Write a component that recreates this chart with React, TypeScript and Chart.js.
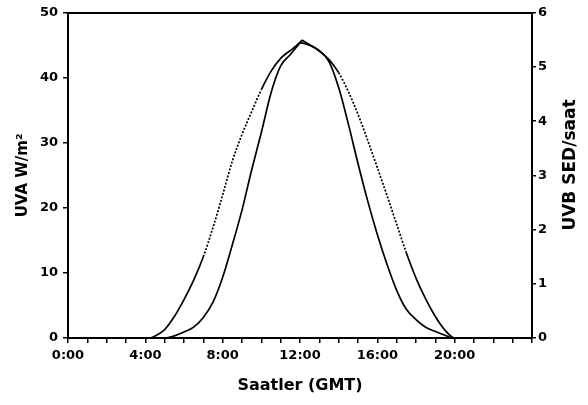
import React, { useEffect, useRef } from "react";
import { Chart, registerables } from "chart.js";

Chart.register(...registerables);

// Hours (GMT) and UVA irradiance (W/m²) – wide curve, left axis
const uvaHours = [0, 1, 2, 3, 4, 4.25, 4.5, 5, 5.5, 6, 6.5, 7, 7.5, 8, 8.5, 9, 9.5, 10, 10.5, 11, 11.5, 11.8, 12, 12.2, 12.5, 13, 13.5, 14, 14.5, 15, 15.5, 16, 16.5, 17, 17.5, 18, 18.5, 19, 19.5, 20, 21, 22, 23, 24];
const uvaValues = [0, 0, 0, 0, 0, 0, 0.3, 1.3, 3.3, 5.9, 8.9, 12.5, 17.0, 22.0, 27.2, 31.3, 34.8, 38.2, 41.0, 43.0, 44.2, 44.9, 45.4, 45.3, 45.0, 44.1, 42.8, 40.8, 37.9, 34.4, 30.4, 26.2, 21.9, 17.5, 13.1, 9.2, 6.0, 3.3, 1.2, 0, 0, 0, 0, 0];

// Hours (GMT) and UVB dose rate (SED/saat) – narrow curve, right axis
const uvbHours = [0, 1, 2, 3, 4, 5, 5.5, 6, 6.5, 7, 7.5, 8, 8.5, 9, 9.5, 10, 10.5, 11, 11.5, 11.8, 12, 12.1, 12.3, 12.5, 13, 13.5, 14, 14.5, 15, 15.5, 16, 16.5, 17, 17.5, 18, 18.5, 19, 19.5, 19.9, 21, 22, 23, 24];
const uvbValues = [0, 0, 0, 0, 0, 0, 0.04, 0.11, 0.2, 0.38, 0.66, 1.12, 1.72, 2.36, 3.1, 3.79, 4.52, 5.02, 5.23, 5.36, 5.45, 5.49, 5.45, 5.41, 5.3, 5.1, 4.62, 3.95, 3.22, 2.53, 1.91, 1.36, 0.88, 0.53, 0.34, 0.2, 0.12, 0.05, 0, 0, 0, 0, 0];

// Hour ranges where the UVA trace is drawn broken (dotted)
const uvaDottedRanges = [
  [7.0, 10.3],
  [14.0, 17.8],
];

const xLabelHours = [0, 4, 8, 12, 16, 20];
const xTitle = "Saatler (GMT)";
const yLeftTitle = "UVA W/m²";
const yRightTitle = "UVB SED/saat";

const FONT = '"DejaVu Sans", sans-serif';

export default function App() {
  const ref = useRef<HTMLCanvasElement | null>(null);

  useEffect(() => {
    document.body.style.margin = "0";
    const canvas = ref.current;
    if (!canvas) return;

    const rightTitlePlugin = {
      id: "rightTitle",
      afterDraw(chart: any) {
        const { ctx } = chart;
        const s = chart.scales.y1;
        ctx.save();
        ctx.translate(s.right - 17, 165);
        ctx.rotate(-Math.PI / 2);
        ctx.font = `bold 17px ${FONT}`;
        ctx.fillStyle = "#000";
        ctx.textAlign = "center";
        ctx.textBaseline = "middle";
        ctx.fillText(yRightTitle, 0, 0);
        ctx.restore();
      },
    };

    const inDotted = (a: number, b: number) =>
      uvaDottedRanges.some(([lo, hi]) => a >= lo && b <= hi);

    const tickFont = { family: FONT, size: 13, weight: "bold" as const };
    const titleFont = { family: FONT, size: 15, weight: "bold" as const };

    const chart = new Chart(canvas, {
      type: "line",
      data: {
        datasets: [
          {
            label: "UVA",
            data: uvaHours.map((h, i) => ({ x: h, y: uvaValues[i] })),
            yAxisID: "y",
            xAxisID: "x",
            borderColor: "#000",
            borderWidth: 1.7,
            pointRadius: 0,
            fill: false,
            cubicInterpolationMode: "monotone",
            segment: {
              borderDash: (ctx: any) =>
                inDotted(ctx.p0.parsed.x, ctx.p1.parsed.x) ? [2, 1.6] : undefined,
            },
          },
          {
            label: "UVB",
            data: uvbHours.map((h, i) => ({ x: h, y: uvbValues[i] })),
            yAxisID: "y1",
            xAxisID: "x",
            borderColor: "#000",
            borderWidth: 1.7,
            pointRadius: 0,
            fill: false,
            cubicInterpolationMode: "monotone",
          },
        ],
      },
      options: {
        animation: false,
        responsive: false,
        layout: { padding: { top: 10, left: 0, right: 0, bottom: 0 } },
        plugins: {
          legend: { display: false },
          tooltip: { enabled: false },
        },
        scales: {
          x: {
            type: "linear",
            position: "bottom",
            min: 0,
            max: 24,
            afterFit: (s: any) => {
              s.height = 67;
            },
            ticks: {
              stepSize: 1,
              autoSkip: false,
              maxRotation: 0,
              color: "#000",
              font: tickFont,
              padding: 5,
              callback: (v: any) =>
                xLabelHours.includes(Number(v)) ? `${v}:00` : "",
            },
            grid: {
              display: true,
              drawOnChartArea: false,
              drawTicks: true,
              tickLength: 5,
              color: "#000",
              lineWidth: 1.5,
            },
            border: { display: true, color: "#000", width: 2 },
            title: {
              display: true,
              text: xTitle,
              color: "#000",
              font: { family: FONT, size: 16, weight: "bold" as const },
              padding: { top: 0, bottom: 10 },
            },
          },
          xTop: {
            type: "linear",
            position: "top",
            min: 0,
            max: 24,
            afterFit: (s: any) => {
              s.height = 0;
            },
            ticks: { display: false },
            grid: { display: false },
            border: { display: true, color: "#000", width: 2 },
          },
          y: {
            type: "linear",
            position: "left",
            min: 0,
            max: 50,
            afterFit: (s: any) => {
              s.width = 68;
            },
            ticks: {
              stepSize: 10,
              color: "#000",
              font: tickFont,
              padding: 5,
            },
            grid: {
              display: true,
              drawOnChartArea: false,
              drawTicks: true,
              tickLength: 5,
              color: "#000",
              lineWidth: 1.5,
            },
            border: { display: true, color: "#000", width: 2 },
            title: {
              display: true,
              text: yLeftTitle,
              color: "#000",
              font: titleFont,
              padding: { top: 14, bottom: 0 },
            },
          },
          y1: {
            type: "linear",
            position: "right",
            min: 0,
            max: 6,
            afterFit: (s: any) => {
              s.width = 56;
            },
            ticks: {
              stepSize: 1,
              color: "#000",
              font: tickFont,
              padding: 2,
            },
            grid: {
              display: true,
              drawOnChartArea: false,
              drawTicks: true,
              tickLength: 4,
              color: "#000",
              lineWidth: 1.5,
            },
            border: { display: true, color: "#000", width: 2 },
          },
        },
      },
      plugins: [rightTitlePlugin],
    } as any);

    return () => chart.destroy();
  }, []);

  return (
    <div style={{ width: 588, height: 405, background: "#fff" }}>
      <canvas ref={ref} width={588} height={405} style={{ display: "block" }} />
    </div>
  );
}
